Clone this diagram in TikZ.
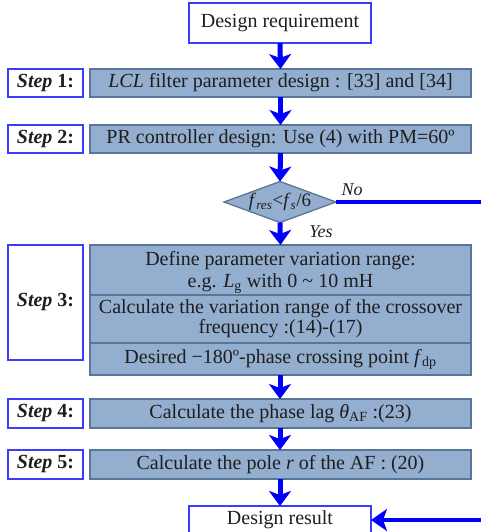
\documentclass[tikz,border=0pt]{standalone}
\usepackage{fontspec}
\setmainfont{Liberation Serif}
\usetikzlibrary{shapes.geometric,arrows.meta,calc}
\definecolor{boxfill}{RGB}{147,174,207}
\definecolor{boxdraw}{RGB}{88,118,152}
\definecolor{lblue}{RGB}{60,60,255}
\definecolor{arr}{RGB}{0,0,250}
\definecolor{txt}{RGB}{30,30,30}
\begin{document}
\begin{tikzpicture}[x=1pt,y=-1pt,
  every node/.style={inner sep=0pt,outer sep=0pt,text=txt},
  bigfont/.style={font=\fontsize{20}{21}\selectfont},
  mainbox/.style={draw=boxdraw,fill=boxfill,line width=1.3pt,minimum width=381pt,bigfont},
  lblbox/.style={draw=lblue,fill=white,line width=1.5pt,minimum width=75pt,bigfont},
  endbox/.style={draw=lblue,fill=white,line width=1.5pt,minimum width=182pt,bigfont},
  flowarrow/.style={draw=arr,line width=5pt,-{Stealth[length=15pt,width=22pt,inset=4pt]}},
  noline/.style={draw=arr,line width=3.5pt}
]
\useasboundingbox (0,0) rectangle (480,532);
% boxes
\node[endbox,minimum height=40pt] (req) at (280,23) {Design requirement};
\node[mainbox,minimum height=28pt] (s1) at (280.5,83) {\textit{LCL} filter parameter design : [33] and [34]};
\node[lblbox,minimum height=28pt] (l1) at (45.5,83) {\textbf{\textit{Step} 1:}};
\node[mainbox,minimum height=28pt] (s2) at (280.5,139) {PR controller design: Use (4) with PM=60º};
\node[lblbox,minimum height=28pt] (l2) at (45.5,139) {\textbf{\textit{Step} 2:}};
\node[diamond,draw=boxdraw,fill=boxfill,line width=1.3pt,minimum width=112pt,minimum height=41pt] (dec) at (280,202) {};
\node[font=\fontsize{19}{20}\selectfont] (dect) at (dec) {\textit{f}\textsubscript{\textit{res}}<\textit{f}\textsubscript{\textit{s}}/6};
\node[mainbox,minimum height=130pt] (s3) at (280.5,310) {};
\node[lblbox,minimum height=115pt] (l3) at (45.5,302.5) {\textbf{\textit{Step} 3:}};
\draw[boxdraw,line width=1.2pt] ($(s3.north west)+(0,50)$) coordinate (d1a) -- ($(s3.north east)+(0,50)$) coordinate (d1b);
\draw[boxdraw,line width=1.2pt] ($(s3.north west)+(0,98)$) coordinate (d2a) -- ($(s3.north east)+(0,98)$) coordinate (d2b);
\node[font=\fontsize{20}{22}\selectfont,align=center,anchor=base] (t31) at (280.5,287) {Define parameter variation range:\\e.g. \textit{L}\textsubscript{g} with 0 \textasciitilde{} 10 mH};
\node[font=\fontsize{20}{20}\selectfont,align=center,anchor=base] (t33) at (280.5,333) {Calculate the variation range of the crossover\\frequency :(14)-(17)};
\node[bigfont,anchor=base] (t35) at (280.5,363) {Desired −180º-phase crossing point \textit{f}\textsubscript{dp}};
\node[mainbox,minimum height=29pt] (s4) at (280.5,413.5) {Calculate the phase lag \textit{θ}\textsubscript{AF} :(23)};
\node[lblbox,minimum height=29pt] (l4) at (45.5,413.5) {\textbf{\textit{Step} 4:}};
\node[mainbox,minimum height=29pt] (s5) at (280.5,464.5) {Calculate the pole \textit{r} of the AF : (20)};
\node[lblbox,minimum height=29pt] (l5) at (45.5,464.5) {\textbf{\textit{Step} 5:}};
\node[endbox,minimum height=28pt] (res) at (280,520) {Design result};
% labels
\node[font=\fontsize{18}{20}\selectfont\itshape] (no) at (352,190) {No};
\node[font=\fontsize{18}{20}\selectfont\itshape] (yes) at (321,232) {Yes};
% connectors
\draw[flowarrow] (req.south) -- (s1.north);
\draw[flowarrow] (s1.south) -- (s2.north);
\draw[flowarrow] (s2.south) -- (dec.north);
\draw[flowarrow] (dec.south) -- (s3.north);
\draw[flowarrow] (s3.south -| res.north) -- (s4.north -| res.north);
\draw[flowarrow] (s4.south -| res.north) -- (s5.north -| res.north);
\draw[flowarrow] (s5.south -| res.north) -- (res.north);
\coordinate (rt) at (484,202);
\coordinate (rb) at (484,520);
\draw[noline] (dec.east) -- (rt) -- (rb);
\draw[draw=arr,line width=3.5pt,-{Stealth[length=16pt,width=22pt,inset=4pt]}] (rb) -- (res.east);
\end{tikzpicture}
\end{document}
